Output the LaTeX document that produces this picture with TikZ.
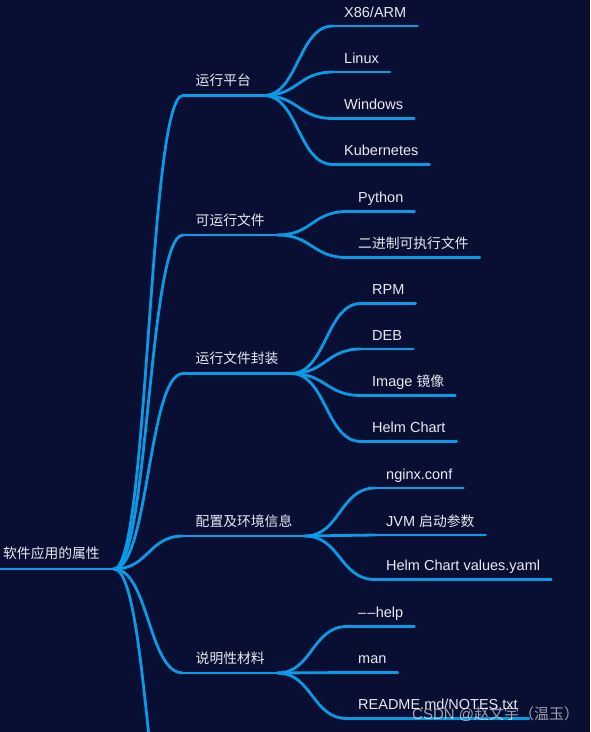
\documentclass[tikz,border=0pt]{standalone}
\usepackage{fontspec}
\setmainfont{Liberation Sans}
\newfontfamily\cjk{Noto Sans CJK SC}
\usetikzlibrary{calc}
\definecolor{bg}{HTML}{080F33}
\definecolor{br}{HTML}{0A9BE6}
\definecolor{txt}{HTML}{E8EAF0}
\newcommand\zh[1]{{\cjk\fontsize{13.8}{17}\selectfont #1}}
\tikzset{
  branch/.style={draw=br, line width=2.8pt, line cap=round},
  lvtwo/.style={inner xsep=11pt, inner ysep=0pt, text depth=8.5pt, text height=11pt,
    anchor=south west, text=txt, font=\fontsize{14.5}{17}\selectfont},
  lvone/.style={lvtwo, inner xsep=12.5pt, text depth=9.5pt},
  rootlbl/.style={lvtwo, inner xsep=0pt, text depth=10.5pt},
}
\newcommand\uline[1]{\draw[branch] (#1.south west) -- (#1.south east);}
\newcommand\conn[2]{\edef\srcnode{#1}\edef\dstnode{#2}%
  \draw[branch] let \p1=(\srcnode.south east), \p2=(\dstnode.south west) in
  (\p1) .. controls ({(\x1+\x2)/2},\y1) and ({(\x1+\x2)/2},\y2) .. (\p2);}
\begin{document}
\begin{tikzpicture}[x=1pt,y=-1pt]
\path[use as bounding box, fill=bg] (0,0) rectangle (590,732);
\clip (0,0) rectangle (590,732);
% root
\node[rootlbl] (root) at (0,569) {\hspace*{3pt}\zh{软件应用的属性}\hspace*{14pt}};
% level 1
\node[lvone] (a) at (183,95.5) {\zh{运行平台}};
\node[lvone] (b) at (183,235) {\zh{可运行文件}};
\node[lvone] (c) at (183,373.5) {\zh{运行文件封装}};
\node[lvone] (d) at (183,536) {\zh{配置及环境信息}};
\node[lvone] (e) at (183,673) {\zh{说明性材料}};
\coordinate (f) at (183,895);
% level 2
\node[lvtwo] (a1) at (333,26) {X86/ARM};
\node[lvtwo] (a2) at (333,72) {Linux};
\node[lvtwo] (a3) at (333,118.5) {Windows};
\node[lvtwo] (a4) at (333,164.5) {Kubernetes};
\node[lvtwo] (b1) at (347,211.5) {Python};
\node[lvtwo] (b2) at (347,257.5) {\zh{二进制可执行文件}};
\node[lvtwo] (c1) at (361,303.5) {RPM};
\node[lvtwo] (c2) at (361,349) {DEB};
\node[lvtwo] (c3) at (361,395.5) {Image \zh{镜像}};
\node[lvtwo] (c4) at (361,441.5) {Helm Chart};
\node[lvtwo] (d1) at (375,488) {nginx.conf};
\node[lvtwo] (d2) at (375,535) {JVM \zh{启动参数}};
\node[lvtwo] (d3) at (375,579.5) {Helm Chart values.yaml};
\node[lvtwo] (e1) at (347,626.5) {\textendash\kern1.2pt\textendash\kern0.3pt help};
\node[lvtwo] (e2) at (347,672.5) {man};
\node[lvtwo] (e3) at (347,718.5) {README.md/NOTES.txt};
% underlines
\foreach \q in {root,a,b,c,d,e,a1,a2,a3,a4,b1,b2,c1,c2,c3,c4,d1,d2,d3,e1,e2,e3}{\uline{\q}}
% connectors
\foreach \q in {a,b,c,d,e}{\conn{root}{\q}}
\draw[branch] let \p1=(root.south east), \p2=(f) in
  (\p1) .. controls ({(\x1+\x2)/2},\y1) and ({(\x1+\x2)/2},\y2) .. (\p2) -- ++(100pt,0pt);
\foreach \q in {a1,a2,a3,a4}{\conn{a}{\q}}
\foreach \q in {b1,b2}{\conn{b}{\q}}
\foreach \q in {c1,c2,c3,c4}{\conn{c}{\q}}
\foreach \q in {d1,d2,d3}{\conn{d}{\q}}
\foreach \q in {e1,e2,e3}{\conn{e}{\q}}
% watermark
\node[anchor=base west, inner sep=0pt, text=white, text opacity=0.6,
  font=\fontsize{15}{18}\selectfont] (wm) at (412,719) {CSDN @{\cjk\fontsize{15}{18}\selectfont 赵文宇（温玉）}};
\end{tikzpicture}
\end{document}
